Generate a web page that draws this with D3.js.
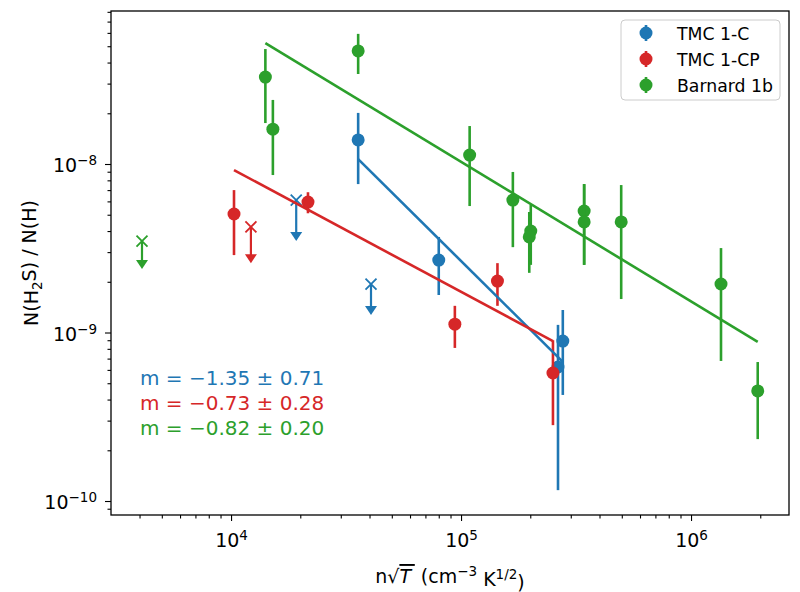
<!DOCTYPE html>
<html><head><meta charset="utf-8">
<script src="https://cdn.jsdelivr.net/npm/d3@7"></script>
<style>
body{margin:0;background:#fff;}
text{font-family:"DejaVu Sans",sans-serif;}
</style></head>
<body><svg id="c" width="800" height="592"></svg>
<script>
// ---- data ----
const seriesNames = ["TMC 1-C", "TMC 1-CP", "Barnard 1b"];
const seriesColors = ["#1f77b4", "#d62728", "#2ca02c"];

const tmc1cX  = [3.57e4, 8.0e4, 2.77e5, 2.64e5];
const tmc1cY  = [1.39e-8, 2.69e-9, 8.9e-10, 6.24e-10];
const tmc1cLo = [7.6e-9, 1.67e-9, 4.26e-10, 1.16e-10];
const tmc1cHi = [2.01e-8, 3.69e-9, 1.36e-9, 1.11e-9];
const tmc1cLimX = [1.92e4, 4.06e4];
const tmc1cLimY = [6.1e-9, 1.94e-9];
const tmc1cLimEnd = [3.49e-9, 1.27e-9];
const tmc1cFitX = [3.57e4, 2.77e5];
const tmc1cFitY = [1.07e-8, 6.7e-10];

const tmc1cpX  = [1.03e4, 2.16e4, 9.4e4, 1.44e5, 2.51e5];
const tmc1cpY  = [5.05e-9, 5.94e-9, 1.12e-9, 2.02e-9, 5.75e-10];
const tmc1cpLo = [2.88e-9, 5.1e-9, 8.1e-10, 1.44e-9, 2.82e-10];
const tmc1cpHi = [7.0e-9, 6.8e-9, 1.44e-9, 2.58e-9, 9.0e-10];
const tmc1cpLimX = [1.22e4];
const tmc1cpLimY = [4.23e-9];
const tmc1cpLimEnd = [2.58e-9];
const tmc1cpFitX = [1.03e4, 2.51e5];
const tmc1cpFitY = [9.2e-9, 8.9e-10];

const b1bX  = [1.41e4, 1.52e4, 3.57e4, 1.09e5, 1.68e5, 2.01e5, 1.98e5, 3.43e5, 3.43e5, 4.97e5, 1.35e6, 1.95e6];
const b1bY  = [3.28e-8, 1.61e-8, 4.69e-8, 1.13e-8, 6.11e-9, 4.0e-9, 3.69e-9, 5.26e-9, 4.53e-9, 4.53e-9, 1.94e-9, 4.5e-10];
const b1bLo = [1.75e-8, 8.6e-9, 3.42e-8, 5.63e-9, 3.21e-9, 2.52e-9, 2.26e-9, 2.52e-9, 2.52e-9, 1.58e-9, 6.78e-10, 2.33e-10];
const b1bHi = [4.81e-8, 2.40e-8, 5.92e-8, 1.68e-8, 8.97e-9, 5.71e-9, 5.19e-9, 7.6e-9, 7.6e-9, 7.5e-9, 3.17e-9, 6.68e-10];
const b1bLimX = [4.1e3];
const b1bLimY = [3.49e-9];
const b1bLimEnd = [2.38e-9];
const b1bFitX = [1.41e4, 1.95e6];
const b1bFitY = [5.22e-8, 8.8e-10];

const slopeLabels = ["m = \u22121.35 \u00b1 0.71", "m = \u22120.73 \u00b1 0.28", "m = \u22120.82 \u00b1 0.20"];

const xMajor = [1e4, 1e5, 1e6];
const yMajor = [1e-10, 1e-9, 1e-8];

// ---- layout ----
const L = 111, R = 789, T = 11, B = 515;
const svg = d3.select("#c");
const x = d3.scaleLog().domain([Math.pow(10,3.478), Math.pow(10,6.426)]).range([L, R]);
const y = d3.scaleLog().domain([Math.pow(10,-10.083), Math.pow(10,-7.092)]).range([B, T]);

function minorTicks(scale){
  const [a,b] = scale.domain();
  const out=[];
  for(let e=Math.floor(Math.log10(a)); e<=Math.ceil(Math.log10(b)); e++){
    for(let k=2;k<=9;k++){const v=k*Math.pow(10,e); if(v>=a && v<=b) out.push(v);}
  }
  return out;
}

// minor ticks
svg.append("g").attr("transform",`translate(0,${B})`)
  .call(d3.axisBottom(x).tickValues(minorTicks(x)).tickSize(3.5).tickFormat(""))
  .call(g=>g.select(".domain").remove());
svg.append("g").attr("transform",`translate(${L},0)`)
  .call(d3.axisLeft(y).tickValues(minorTicks(y)).tickSize(3.5).tickFormat(""))
  .call(g=>g.select(".domain").remove());

function supLabels(g, fmt){
  g.selectAll(".tick text").each(function(d){
    const t=d3.select(this); t.text(null);
    t.append("tspan").text("10");
    t.append("tspan").attr("dy","-0.55em").attr("font-size","13.5px").text(fmt(d));
  });
}
const xa = svg.append("g").attr("transform",`translate(0,${B})`)
  .call(d3.axisBottom(x).tickValues(xMajor).tickSize(6).tickPadding(7).tickFormat(d=>d));
xa.select(".domain").remove();
xa.selectAll(".tick text").attr("font-size","19px").attr("font-family","DejaVu Sans").attr("dy","1.0em");
supLabels(xa, d=>String(Math.round(Math.log10(d))));

const ya = svg.append("g").attr("transform",`translate(${L},0)`)
  .call(d3.axisLeft(y).tickValues(yMajor).tickSize(6).tickPadding(8).tickFormat(d=>d));
ya.select(".domain").remove();
ya.selectAll(".tick text").attr("font-size","19px").attr("font-family","DejaVu Sans").attr("dy","0.42em");
supLabels(ya, d=>"\u2212"+String(Math.round(-Math.log10(d))));
svg.selectAll(".tick line").attr("stroke","#000").attr("stroke-width",1.1);

// frame
svg.append("rect").attr("x",L).attr("y",T).attr("width",R-L).attr("height",B-T)
  .attr("fill","none").attr("stroke","#000").attr("stroke-width",1.3);

const plot = svg.append("g");
const groups = [
  {c:seriesColors[0], X:tmc1cX, Y:tmc1cY, Lo:tmc1cLo, Hi:tmc1cHi, LX:tmc1cLimX, LY:tmc1cLimY, LE:tmc1cLimEnd, FX:tmc1cFitX, FY:tmc1cFitY},
  {c:seriesColors[1], X:tmc1cpX, Y:tmc1cpY, Lo:tmc1cpLo, Hi:tmc1cpHi, LX:tmc1cpLimX, LY:tmc1cpLimY, LE:tmc1cpLimEnd, FX:tmc1cpFitX, FY:tmc1cpFitY},
  {c:seriesColors[2], X:b1bX, Y:b1bY, Lo:b1bLo, Hi:b1bHi, LX:b1bLimX, LY:b1bLimY, LE:b1bLimEnd, FX:b1bFitX, FY:b1bFitY}
];

groups.forEach(s=>{
  const g = plot.append("g");
  s.X.forEach((xv,i)=>{
    g.append("line").attr("x1",x(xv)).attr("x2",x(xv)).attr("y1",y(s.Lo[i])).attr("y2",y(s.Hi[i]))
      .attr("stroke",s.c).attr("stroke-width",2.6);
    g.append("circle").attr("cx",x(xv)).attr("cy",y(s.Y[i])).attr("r",6.5).attr("fill",s.c);
  });
  s.LX.forEach((xv,i)=>{
    const cx=x(xv), cy=y(s.LY[i]), ey=y(s.LE[i]);
    g.append("line").attr("x1",cx).attr("x2",cx).attr("y1",cy).attr("y2",ey-6).attr("stroke",s.c).attr("stroke-width",2.2);
    g.append("path").attr("d",`M${cx-6},${ey-9}L${cx+6},${ey-9}L${cx},${ey}Z`).attr("fill",s.c);
    g.append("path").attr("d",`M${cx-5.5},${cy-5.5}L${cx+5.5},${cy+5.5}M${cx-5.5},${cy+5.5}L${cx+5.5},${cy-5.5}`)
      .attr("stroke",s.c).attr("stroke-width",1.8).attr("fill","none");
  });
});
groups.forEach(s=>{
  plot.append("path").datum(s.FX.map((v,i)=>[v,s.FY[i]]))
    .attr("d",d3.line().x(d=>x(d[0])).y(d=>y(d[1])))
    .attr("stroke",s.c).attr("stroke-width",2.6).attr("fill","none");
});

// slope annotations
slopeLabels.forEach((t,i)=>{
  svg.append("text").attr("x",140).attr("y",384.5+i*25).attr("font-size","20px")
    .attr("fill",seriesColors[i]).text(t);
});

// legend
const lg = svg.append("g");
lg.append("rect").attr("x",621).attr("y",20).attr("width",159).attr("height",80).attr("rx",4)
  .attr("fill","#fff").attr("fill-opacity",0.8).attr("stroke","#cccccc");
seriesNames.forEach((n,i)=>{
  const yy = 33 + i*26;
  lg.append("line").attr("x1",646).attr("x2",646).attr("y1",yy-8).attr("y2",yy+8).attr("stroke",seriesColors[i]).attr("stroke-width",2.6);
  lg.append("circle").attr("cx",646).attr("cy",yy).attr("r",6.5).attr("fill",seriesColors[i]);
  lg.append("text").attr("x",677).attr("y",yy+6.5).attr("font-size","17.3px").attr("fill","#000").text(n);
});

// axis labels
const xl = svg.append("text").attr("x",450).attr("y",583).attr("text-anchor","middle").attr("font-size","19px");
xl.append("tspan").text("n\u221a");
xl.append("tspan").attr("font-style","italic").attr("text-decoration","overline").text("T\u2009");
xl.append("tspan").text(" (cm");
xl.append("tspan").attr("dy","-0.55em").attr("font-size","13.5px").text("\u22123");
xl.append("tspan").attr("dy","0.55em").text(" K");
xl.append("tspan").attr("dy","-0.55em").attr("font-size","13.5px").text("1/2");
xl.append("tspan").attr("dy","0.55em").text(")");

const yl = svg.append("text").attr("transform",`translate(38,${(T+B)/2}) rotate(-90)`).attr("text-anchor","middle").attr("font-size","19px");
yl.append("tspan").text("N(H");
yl.append("tspan").attr("dy","0.3em").attr("font-size","13.5px").text("2");
yl.append("tspan").attr("dy","-0.3em").text("S) / N(H)");
</script></body></html>
